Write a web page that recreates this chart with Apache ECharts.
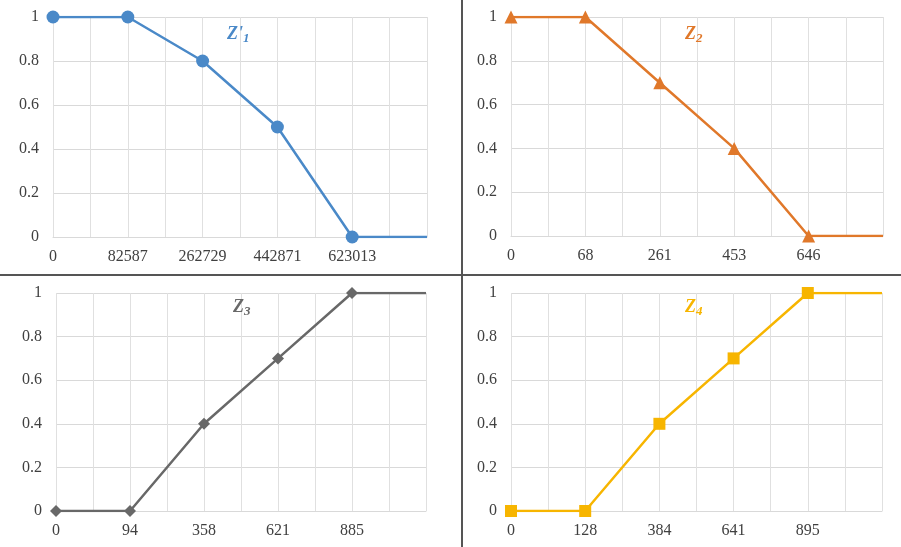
<!DOCTYPE html>
<html><head><meta charset="utf-8">
<script src="https://cdn.jsdelivr.net/npm/echarts@6/dist/echarts.min.js"></script>
<style>html,body{margin:0;padding:0;background:#fff}#c{width:901px;height:547px}</style>
</head><body><div id="c"></div>
<script>
const labels1 = ['0','82587','262729','442871','623013',''];
const values1 = [1,1,0.8,0.5,0,0];
const labels2 = ['0','68','261','453','646',''];
const values2 = [1,1,0.7,0.4,0,0];
const labels3 = ['0','94','358','621','885',''];
const values3 = [0,0,0.4,0.7,1,1];
const labels4 = ['0','128','384','641','895',''];
const values4 = [0,0,0.4,0.7,1,1];
const yTicks = ['0','0.2','0.4','0.6','0.8','1'];

const panels = [
  {labels: labels1, values: values1, color:'#4a89c8', symbol:'circle', size:13, grid:{left:53, top:17, width:374, height:220}, title:{main:"Z'", sub:'1'}, tpos:{left:222, top:20}},
  {labels: labels2, values: values2, color:'#e0782a', symbol:'triangle', size:13, grid:{left:511, top:17, width:372, height:219}, title:{main:'Z', sub:'2'}, tpos:{left:680, top:20}},
  {labels: labels3, values: values3, color:'#686868', symbol:'diamond', size:12, grid:{left:56, top:293, width:370, height:218}, title:{main:'Z', sub:'3'}, tpos:{left:228, top:293}},
  {labels: labels4, values: values4, color:'#f7b500', symbol:'rect', size:12, grid:{left:511, top:293, width:371, height:218}, title:{main:'Z', sub:'4'}, tpos:{left:680, top:293}}
];

const font = 'Liberation Serif';
const option = {
  animation:false,
  backgroundColor:'#fff',
  grid: panels.map(p => Object.assign({containLabel:false, outerBoundsMode:'none'}, p.grid)),
  xAxis: panels.map((p,i) => ({
    type:'value', gridIndex:i, min:0, max:p.labels.length-1, interval:0.5,
    axisLine:{show:true, lineStyle:{color:'#d9d9d9', width:1}},
    axisTick:{show:false},
    splitLine:{show:true, lineStyle:{color:'#e0e0e0', width:1}},
    axisLabel:{show:true, margin:12, color:'#404040', fontFamily:font, fontSize:16,
      showMinLabel:true, showMaxLabel:true,
      formatter: v => Number.isInteger(v) ? p.labels[v] : ''}
  })),
  yAxis: panels.map((p,i) => ({
    type:'value', gridIndex:i, min:0, max:1, interval:0.2,
    axisLine:{show:false}, axisTick:{show:false},
    splitLine:{show:true, lineStyle:{color:'#d9d9d9', width:1}},
    axisLabel:{margin:14, color:'#404040', fontFamily:font, fontSize:16,
      formatter: v => yTicks[Math.round(v*5)]}
  })),
  title: panels.map(p => ({
    text: '{m|' + p.title.main + '}{s|' + p.title.sub + '}',
    left: p.tpos.left, top: p.tpos.top,
    textStyle:{rich:{
      m:{fontFamily:font, fontStyle:'italic', fontWeight:'bold', fontSize:18, color:p.color, lineHeight:20, verticalAlign:'top'},
      s:{fontFamily:font, fontStyle:'italic', fontWeight:'bold', fontSize:13, color:p.color, lineHeight:20, verticalAlign:'bottom', padding:[10,0,0,0]}
    }}
  })),
  series: panels.map((p,i) => ({
    type:'line', xAxisIndex:i, yAxisIndex:i,
    symbol:p.symbol, symbolSize:p.size,
    itemStyle:{color:p.color},
    lineStyle:{color:p.color, width:2.5},
    data: p.values.map((v,j) => j === p.values.length-1 ? {value:[j,v], symbol:'none'} : [j,v])
  })),
  graphic:[
    {type:'line', shape:{x1:462, y1:0, x2:462, y2:547}, style:{stroke:'#555', lineWidth:2}},
    {type:'line', shape:{x1:0, y1:275, x2:901, y2:275}, style:{stroke:'#555', lineWidth:2}}
  ]
};
const chart = echarts.init(document.getElementById('c'), null, {renderer:'canvas'});
chart.setOption(option);
</script></body></html>
